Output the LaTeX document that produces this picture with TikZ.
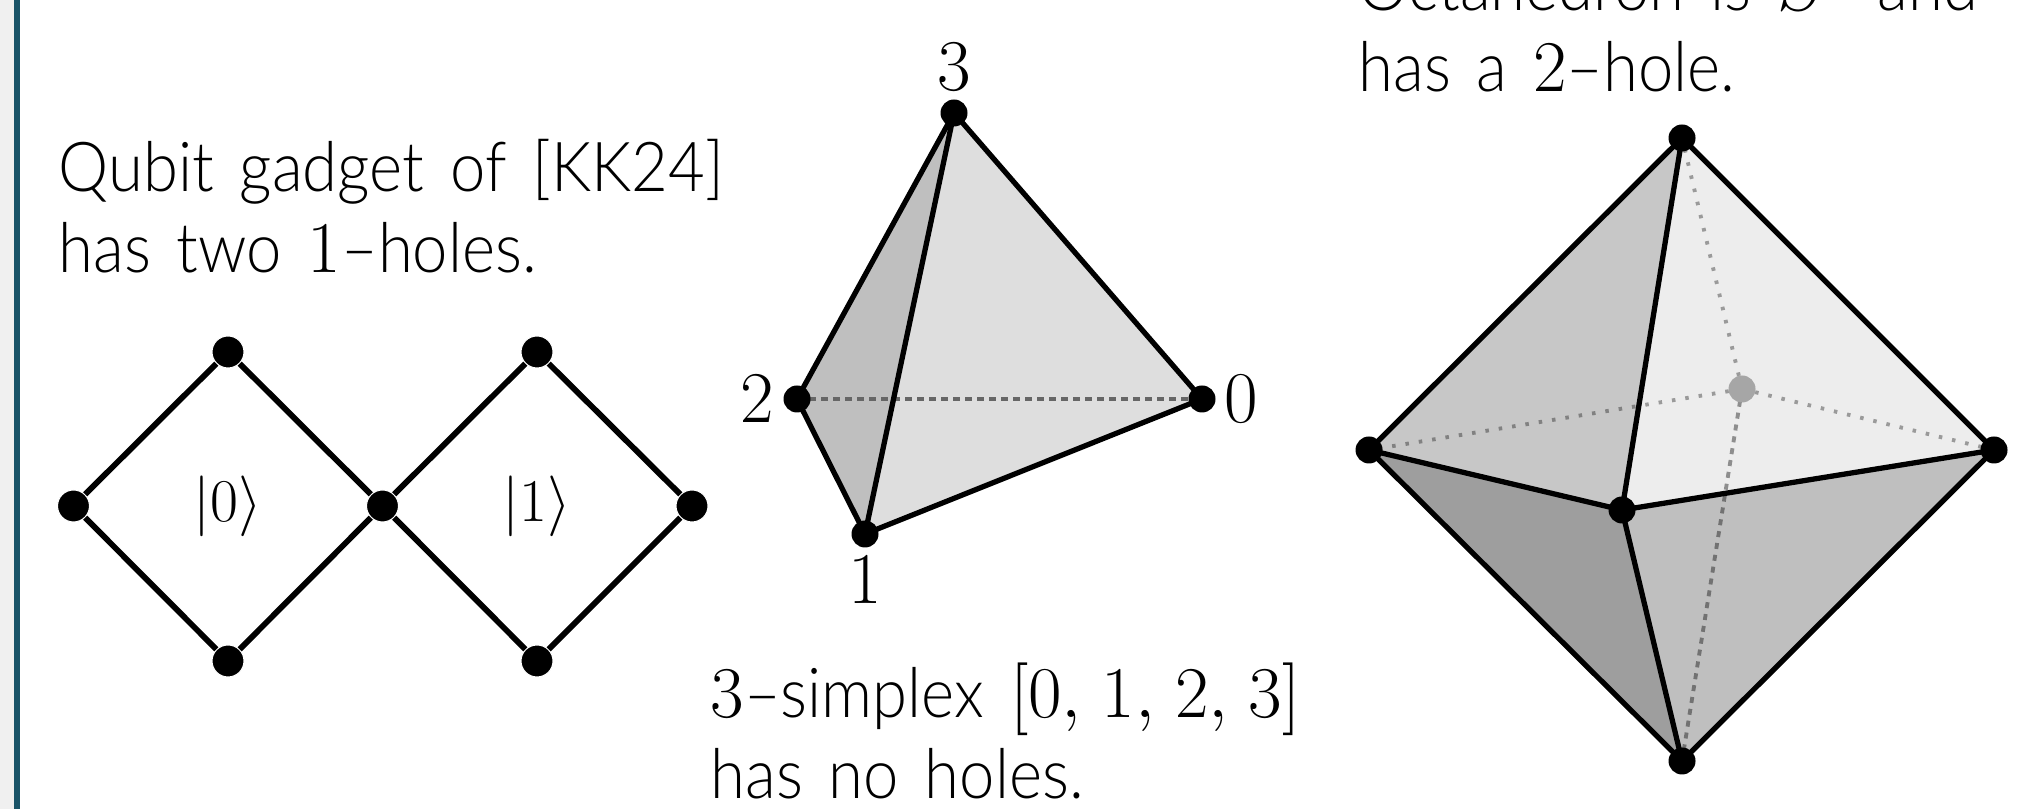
\documentclass[tikz,border=0pt]{standalone}
\usepackage{amsmath}
\usepackage{fontspec}
\usepackage{tikz}
\usetikzlibrary{positioning,calc}
\setsansfont[UprightFont={* Light},FakeStretch=0.92,WordSpace=1.5]{Lato}
\definecolor{myBAR}{HTML}{1A5468}
\definecolor{mySIDE}{HTML}{F0F0F0}
\tikzset{
  vtx/.style={circle, fill=black, draw=white, line width=0.3pt, inner sep=0pt, minimum size=0.32cm},
  dot/.style={circle, fill=black, inner sep=0pt, minimum size=0.27cm},
  edge/.style={line width=1.5pt},
  wire/.style={line width=1.65pt},
  hidden/.style={line width=1.1pt, black, opacity=0.35, dash pattern=on 0.035cm off 0.1cm},
  hiddenb/.style={line width=1.1pt, black, opacity=0.4, dash pattern=on 0.06cm off 0.06cm},
  lbl/.style={font=\sffamily\fontsize{19.6}{23.3}\selectfont, align=left, anchor=base west, inner sep=0pt},
  num/.style={font=\fontsize{22}{26}\selectfont}
}
\begin{document}
\begin{tikzpicture}
    \useasboundingbox (0,0) rectangle (20.36,8.09);
    % Side bar
    \fill[mySIDE] (0,0) rectangle (0.14,8.09);
    \fill[myBAR] (0.14,0) rectangle (0.2,8.09);

    % Gadget
    \node[vtx] (gl) at (0.735,3.03) {};
    \node[vtx] (gt) at (2.28,4.57) {};
    \node[vtx] (gc) at (3.825,3.03) {};
    \node[vtx] (gb) at (2.28,1.48) {};
    \node[vtx] (ht) at (5.37,4.57) {};
    \node[vtx] (hr) at (6.92,3.03) {};
    \node[vtx] (hb) at (5.37,1.48) {};
    \draw[wire] (gl) -- (gt);
    \draw[wire] (gt) -- (gc);
    \draw[wire] (gc) -- (gb);
    \draw[wire] (gb) -- (gl);
    \draw[wire] (gc) -- (ht);
    \draw[wire] (ht) -- (hr);
    \draw[wire] (hr) -- (hb);
    \draw[wire] (hb) -- (gc);
    \node[font=\fontsize{17}{20}\selectfont] (ket0) at (2.28,3.03) {$|0\rangle$};
    \node[font=\fontsize{17}{20}\selectfont] (ket1) at (5.37,3.03) {$|1\rangle$};
    \node[lbl] (gtext) at (0.58,5.36) {Qubit gadget of [KK24]\\has two $1$--holes.};

    % Simplex
    \coordinate (s0) at (12.02,4.10);
    \coordinate (s1) at (8.65,2.75);
    \coordinate (s2) at (7.97,4.10);
    \coordinate (s3) at (9.54,6.96);
    \fill[black!25] (s2) -- (s3) -- (s1) -- cycle;
    \fill[black!13] (s3) -- (s0) -- (s1) -- cycle;
    \draw[line width=1.1pt, black!60, dash pattern=on 0.07cm off 0.05cm] (s2) -- (s0);
    \draw[edge] (s2) -- (s3) -- (s0) -- (s1) -- cycle;
    \draw[edge] (s3) -- (s1);
    \foreach \v/\pos/\t in {s0/right/0,s1/below/1,s2/left/2,s3/above/3}
      \node[dot, label={[num, label distance=-0.04cm]\pos:$\t$}] (n\v) at (\v) {};
    \node[lbl] (stext) at (7.1,0.1) {$3$--simplex $[0,\mskip2mu 1,\mskip2mu 2,\mskip2mu 3]$\\has no holes.};

    % Octahedron
    \coordinate (ot) at (16.82,6.71);
    \coordinate (ol) at (13.69,3.59);
    \coordinate (or) at (19.94,3.59);
    \coordinate (ob) at (16.82,0.48);
    \coordinate (of) at (16.22,2.99);
    \coordinate (oa) at (17.42,4.20);
    \fill[black!22] (ot) -- (ol) -- (of) -- cycle;
    \fill[black!7] (ot) -- (or) -- (of) -- cycle;
    \fill[black!38] (ol) -- (of) -- (ob) -- cycle;
    \fill[black!25] (or) -- (of) -- (ob) -- cycle;
    \draw[hidden] (oa) -- (ot);
    \draw[hidden] (oa) -- (ol);
    \draw[hidden] (oa) -- (or);
    \draw[hiddenb] (oa) -- (ob);
    \node[dot, fill=black!35] (noa) at (oa) {};
    \draw[edge] (ot) -- (or) -- (ob) -- (ol) -- cycle;
    \draw[edge] (of) -- (ot);
    \draw[edge] (of) -- (ol);
    \draw[edge] (of) -- (or);
    \draw[edge] (of) -- (ob);
    \foreach \v in {ot,ol,or,ob,of}
      \node[dot] (n\v) at (\v) {};
    \node[lbl] (otext) at (13.58,7.17) {Octahedron is $S^2$ and\\has a $2$--hole.};
\end{tikzpicture}
\end{document}
